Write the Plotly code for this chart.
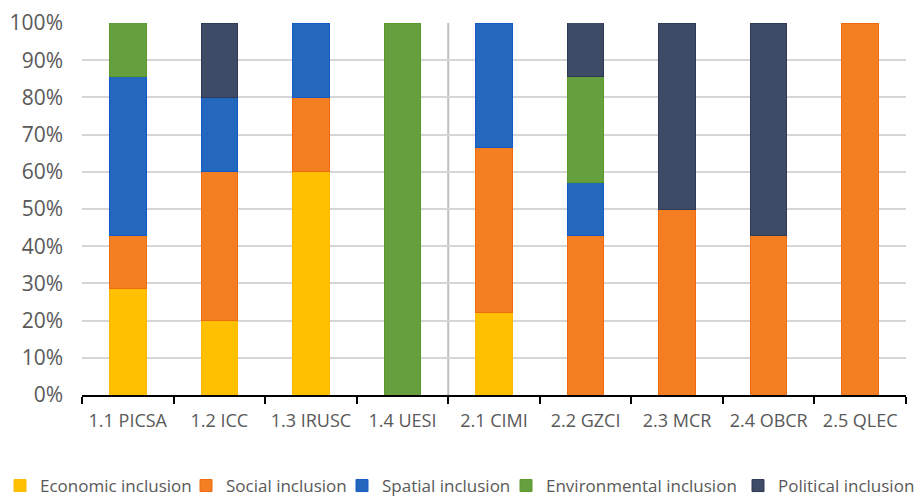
import plotly.graph_objects as go

categories = ["1.1 PICSA", "1.2 ICC", "1.3 IRUSC", "1.4 UESI", "2.1 CIMI",
              "2.2 GZCI", "2.3 MCR", "2.4 OBCR", "2.5 QLEC"]

economic = [28.57, 20, 60, 0, 22.22, 0, 0, 0, 0]
social = [14.29, 40, 20, 0, 44.44, 42.86, 50, 42.86, 100]
spatial = [42.86, 20, 20, 0, 33.33, 14.29, 0, 0, 0]
environmental = [14.29, 0, 0, 100, 0, 28.57, 0, 0, 0]
political = [0, 20, 0, 0, 0, 14.29, 50, 57.14, 0]

series_names = ["Economic inclusion", "Social inclusion", "Spatial inclusion",
                "Environmental inclusion", "Political inclusion"]
series_values = [economic, social, spatial, environmental, political]
fill_colors = ["#FFC000", "#F47E22", "#2468BE", "#66A03E", "#3E4B66"]
edge_colors = ["#FFB800", "#F06A10", "#1459C8", "#5A9A2A", "#2E3A55"]

tick_vals = [0, 10, 20, 30, 40, 50, 60, 70, 80, 90, 100]
tick_text = [f"{v}%" for v in tick_vals]

W, H = 919, 496
# left edge (px) of each legend entry along the bottom row
legend_left_px = [0, 186, 342, 506, 738]

FONT = "Open Sans, sans-serif"
GREY_TEXT = "#595959"

fig = go.Figure()
legend_layouts = {}
for i, (name, vals, color, edge) in enumerate(
        zip(series_names, series_values, fill_colors, edge_colors)):
    key = "legend" if i == 0 else f"legend{i + 1}"
    fig.add_trace(go.Bar(
        name=name, x=categories,
        y=[v if v else None for v in vals],
        marker=dict(color=color, line=dict(color=edge, width=1)),
        legend=key,
    ))
    legend_layouts[key] = dict(
        orientation="h", xref="container", yref="container",
        x=legend_left_px[i] / W, xanchor="left",
        y=1 - 486 / H, yanchor="middle",
        font=dict(family=FONT, size=17, color=GREY_TEXT),
        bgcolor="rgba(0,0,0,0)", borderwidth=0,
    )

fig.update_layout(
    barmode="stack",
    bargap=0.6,
    width=W, height=H,
    margin=dict(l=82, r=13, t=23, b=101, autoexpand=False),
    paper_bgcolor="white", plot_bgcolor="white",
    font=dict(family=FONT, size=17, color=GREY_TEXT),
    showlegend=True,
    **legend_layouts,
)

fig.update_xaxes(
    showline=True, linecolor="black", linewidth=2,
    ticks="outside", tickson="boundaries", ticklen=7, tickwidth=2, tickcolor="black",
    ticklabelstandoff=8, tickangle=0,
    tickfont=dict(family=FONT, size=18, color=GREY_TEXT),
    showgrid=False,
)
fig.update_yaxes(
    range=[0, 100], tickvals=tick_vals, ticktext=tick_text,
    showgrid=True, gridcolor="#D6D6D6", gridwidth=2,
    zeroline=False, showline=False, ticks="",
    ticklabelstandoff=18,
    tickfont=dict(family=FONT, size=21, color=GREY_TEXT),
)

# divider between the two groups of indicators
fig.add_shape(type="line", xref="x", yref="paper", x0=3.5, x1=3.5, y0=-0.015, y1=1,
              line=dict(color="#BFBFBF", width=2), layer="below")

fig.write_html("out.html")
